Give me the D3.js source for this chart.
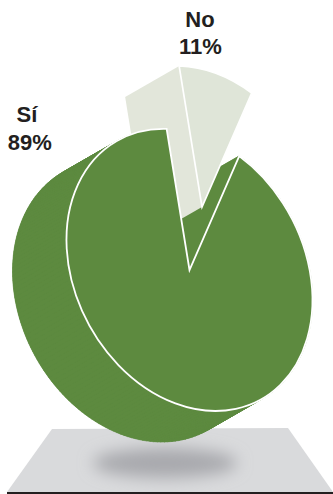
<!DOCTYPE html>
<html>
<head>
<meta charset="utf-8">
<script src="https://cdn.jsdelivr.net/npm/d3@7"></script>
<style>
html,body{margin:0;padding:0;background:#fff}
svg{display:block}
text{font-family:"Liberation Sans",Arial,sans-serif;font-weight:700;font-size:22px;fill:#231f20;text-anchor:middle}
</style>
</head>
<body>
<svg id="chart" width="333" height="494"></svg>
<script>
// Survey answers
const categories = ["No", "Sí"];
const shares = [11, 89];
const labelLines = [["No", "11%"], ["Sí", "89%"]];
const labelX = [[200, 200.5], [27, 29.8]];
const labelY = [[27, 54], [122, 150]];

const colGreen = "#5d8a3f";
const colFace = "#dfe5d8";
const colWall = "#e2e6da";

const svg = d3.select("#chart");
const defs = svg.append("defs");
defs.append("filter").attr("id", "soft").attr("x", "-40%").attr("y", "-100%").attr("width", "180%").attr("height", "300%")
  .append("feGaussianBlur").attr("stdDeviation", 8);

// Floor plane, its contact shadow and the baseline rule
svg.append("polygon").attr("points", "52,429 288,428 333,492 7,492").attr("fill", "#d9dadc");
svg.append("ellipse").attr("cx", 165).attr("cy", 463).attr("rx", 72).attr("ry", 15)
  .attr("fill", "#a8a9ad").attr("filter", "url(#soft)");
svg.append("rect").attr("x", 7).attr("y", 492).attr("width", 326).attr("height", 2).attr("fill", "#231f20");

// The pie is laid out on a unit circle, then sheared into the tilted disc
const tilt = { a: 123, b: 30, c: 0, d: 137.8 };
const centre = [189.5, 270];
const depth = [-54, 31];
const burst = [12.5, -63];
const rad = Math.PI / 180;

// Foreshortening of the sweep: share of the whole to angle on the disc
const sweep = d3.scaleLinear().domain([0, 11, 100]).range([-10.7 * rad, 23.8 * rad, 349.3 * rad]);
const total = d3.sum(shares);
const laid = d3.pie().sort(null).startAngle(0).endAngle(2 * Math.PI)(shares);
const warp = (s) => ({
  ...s,
  startAngle: sweep(s.startAngle / (2 * Math.PI) * total),
  endAngle: sweep(s.endAngle / (2 * Math.PI) * total)
});
const noSlice = warp(laid[0]), yesSlice = warp(laid[1]);

const unitArc = d3.arc().innerRadius(0).outerRadius(1);
const discMatrix = (o) => `matrix(${tilt.a},${tilt.b},${tilt.c},${tilt.d},${centre[0] + o[0]},${centre[1] + o[1]})`;
const rim = (angle, o) => {
  const u = Math.sin(angle), v = -Math.cos(angle);
  return [centre[0] + o[0] + tilt.a * u + tilt.c * v, centre[1] + o[1] + tilt.b * u + tilt.d * v];
};
const hub = (o) => [centre[0] + o[0], centre[1] + o[1]];
const add = (p, q) => [p[0] + q[0], p[1] + q[1]];
const poly = d3.line();

// Extruded body of the large slice: back disc, rim sweep, and the exposed cut wall
const body = svg.append("g").attr("fill", colGreen).attr("stroke", colGreen).attr("stroke-width", 0.6);
body.append("path").attr("d", unitArc(yesSlice)).attr("transform", discMatrix(depth))
  .attr("stroke", "none");
const steps = d3.range(yesSlice.startAngle, yesSlice.endAngle, 0.03).concat(yesSlice.endAngle);
d3.pairs(steps).forEach(([a0, a1]) => {
  const p0 = rim(a0, [0, 0]), p1 = rim(a1, [0, 0]);
  body.append("path").attr("d", poly([p0, p1, add(p1, depth), add(p0, depth)]) + "Z");
});
const wallEdge = rim(yesSlice.startAngle, [0, 0]);
const wallHub = hub([0, 0]);
body.append("path").attr("d", poly([wallHub, wallEdge, add(wallEdge, depth), add(wallHub, depth)]) + "Z");

// Pulled-out small slice: side wall, then its top face
const noEdge = rim(noSlice.startAngle, burst);
const noHub = hub(burst);
svg.append("path").attr("d", poly([noHub, noEdge, add(noEdge, depth), add(noHub, depth)]) + "Z")
  .attr("fill", colWall);
svg.append("path").attr("d", unitArc(noSlice)).attr("transform", discMatrix(burst))
  .attr("fill", colFace).attr("stroke", "#fff").attr("stroke-width", 1.7)
  .attr("vector-effect", "non-scaling-stroke");

// Top face of the large slice
svg.append("path").attr("d", unitArc(yesSlice)).attr("transform", discMatrix([0, 0]))
  .attr("fill", colGreen).attr("stroke", "#fff").attr("stroke-width", 1.8)
  .attr("stroke-linejoin", "miter").attr("vector-effect", "non-scaling-stroke");

// Category labels
categories.forEach((c, i) => {
  const t = svg.append("text");
  labelLines[i].forEach((s, j) => {
    t.append("tspan").attr("x", labelX[i][j]).attr("y", labelY[i][j]).text(s);
  });
});
</script>
</body>
</html>
